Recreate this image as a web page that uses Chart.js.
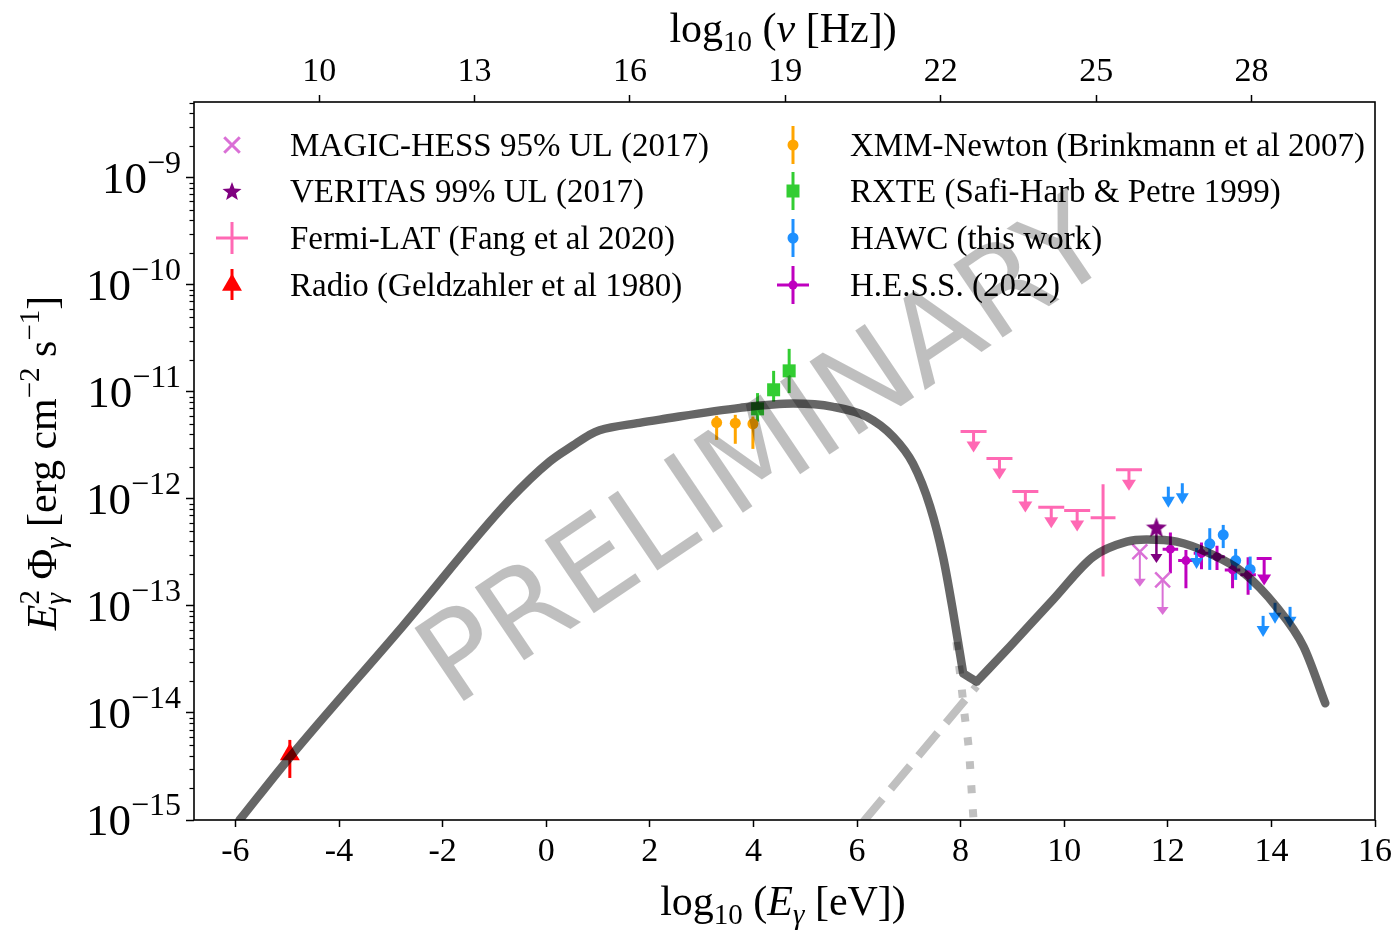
<!DOCTYPE html>
<html>
<head>
<meta charset="utf-8">
<script src="https://cdn.jsdelivr.net/npm/chart.js@4.4.0/dist/chart.umd.min.js"></script>
<style>
  html, body { margin: 0; padding: 0; background: #fff; }
</style>
</head>
<body>
<canvas id="sed" width="1397" height="931"></canvas>
<script>
// ---- data (log10 E [eV] on x, E^2 dN/dE [erg cm^-2 s^-1] on y) ----
const xTicks = [-6, -4, -2, 0, 2, 4, 6, 8, 10, 12, 14, 16];
const nuTicks = [10, 13, 16, 19, 22, 25, 28];
const yTickExps = [-15, -14, -13, -12, -11, -10, -9];
const nuOffset = 14.3835; // log10(1 eV / h)

// total model, split in three pieces (null = break) so the dip stays sharp
const modelX = [-5.92, -4.96, -2.77, -0.71, 0.07, 0.52, 0.84, 1.03, 1.80, 2.19, 3.74, 4.77, 5.54, 6.18, 6.70, 7.08, 7.41, 7.66, 7.86, 8.05,
  8.05, 8.05, 8.31,
  8.31, 8.31, 8.95, 9.79, 10.56, 11.21, 11.59, 12.17, 12.81, 13.46, 14.10, 14.62, 15.04];
const modelY = [1.0e-15, 3.8e-15, 6.46e-14, 9.77e-13, 2.24e-12, 3.16e-12, 3.98e-12, 4.37e-12, 5.13e-12, 5.5e-12, 7.08e-12, 7.76e-12, 7.24e-12, 5.89e-12, 3.8e-12, 2.14e-12, 8.51e-13, 2.88e-13, 8.51e-14, 2.34e-14,
  null, 2.34e-14, 1.96e-14,
  null, 1.96e-14, 4.17e-14, 1.15e-13, 2.88e-13, 3.98e-13, 4.17e-13, 3.98e-13, 3.09e-13, 2.04e-13, 9.77e-14, 4.17e-14, 1.23e-14];
const icX = [6.12, 8.31];
const icY = [9.6e-16, 1.78e-14];
const synX = [7.92, 8.0, 8.08, 8.16, 8.25, 8.28];
const synY = [4.6e-14, 2.1e-14, 9.3e-15, 4.5e-15, 1.0e-15, 7.0e-16];

const radioX = [-4.95], radioY = [4.1e-15], radioLo = [2.47e-15], radioHi = [5.6e-15];
const xmmX = [3.29, 3.65, 3.99], xmmY = [5.16e-12, 5.1e-12, 5.03e-12];
const xmmLo = [3.56e-12, 3.27e-12, 2.93e-12], xmmHi = [5.97e-12, 6.1e-12, 5.88e-12];
const rxteX = [4.08, 4.39, 4.69], rxteY = [6.93e-12, 1.045e-11, 1.57e-11];
const rxteLo = [5.27e-12, 8.11e-12, 9.73e-12], rxteHi = [9.73e-12, 1.57e-11, 2.52e-11];
const fermiUlX = [8.25, 8.75, 9.25, 9.75, 10.25, 11.25];
const fermiUlY = [4.26e-12, 2.38e-12, 1.17e-12, 8.36e-13, 7.77e-13, 1.87e-12];
const fermiX = [10.75], fermiY = [6.68e-13], fermiLo = [1.88e-13], fermiHi = [1.37e-12];
const fermiXLo = [10.51], fermiXHi = [10.99];
const magicX = [11.46, 11.9], magicY = [3.21e-13, 1.75e-13];
const veritasX = [11.78], veritasY = [5.45e-13];
const hessX = [12.05, 12.35, 12.65, 12.95, 13.25, 13.55];
const hessY = [3.39e-13, 2.65e-13, 3.1e-13, 2.88e-13, 2.17e-13, 1.95e-13];
const hessLo = [2.02e-13, 1.46e-13, 2.2e-13, 2.17e-13, 1.46e-13, 1.27e-13];
const hessHi = [4.84e-13, 3.33e-13, 3.91e-13, 3.64e-13, 2.69e-13, 2.85e-13];
const hessXLo = [11.9, 12.2, 12.5, 12.8, 13.1, 13.4], hessXHi = [12.2, 12.5, 12.8, 13.1, 13.4, 13.7];
const hessUlX = [13.86], hessUlY = [2.78e-13];
const hawcX = [12.81, 13.07, 13.31, 13.59], hawcY = [3.8e-13, 4.61e-13, 2.65e-13, 2.19e-13];
const hawcLo = [2.17e-13, 3.47e-13, 1.75e-13, 1.41e-13], hawcHi = [5.32e-13, 5.71e-13, 3.41e-13, 2.89e-13];
const hawcUlX = [12.01, 12.28, 12.555, 13.84, 14.07, 14.36];
const hawcUlY = [1.3e-12, 1.4e-12, 3.48e-13, 8.07e-14, 1.07e-13, 9.8e-14];

const SERIF = '"Liberation Serif", "Times New Roman", serif';
const R = px => `${px}px ${SERIF}`;
const I = px => `italic ${px}px ${SERIF}`;

const pts = (xs, ys) => xs.map((v, i) => ({x: v, y: ys[i]}));

function starImage(size, color) {
  const c = document.createElement('canvas');
  c.width = c.height = size;
  const g = c.getContext('2d');
  g.fillStyle = color;
  g.beginPath();
  for (let i = 0; i < 10; i++) {
    const r = i % 2 ? size * 0.21 : size / 2;
    const a = -Math.PI / 2 + i * Math.PI / 5;
    g.lineTo(size / 2 + r * Math.cos(a), size / 2 + r * Math.sin(a) + size * 0.05);
  }
  g.closePath();
  g.fill();
  return c;
}
const star = starImage(22, '#800080');
const starSmall = starImage(20, '#800080');

function marker(color, style, radius, extra) {
  return Object.assign({
    type: 'scatter', showLine: false, pointStyle: style, pointRadius: radius,
    backgroundColor: color, borderColor: color, borderWidth: 0, order: 0
  }, extra || {});
}

const datasets = [
  {type: 'line', label: 'model', data: pts(modelX, modelY), borderColor: 'rgba(0,0,0,0.6)',
   borderWidth: 8.5, pointRadius: 0, cubicInterpolationMode: 'monotone', order: -1,
   borderJoinStyle: 'round', borderCapStyle: 'round', spanGaps: false},
  {type: 'line', label: 'IC', data: pts(icX, icY), borderColor: '#c0c0c0', borderWidth: 8,
   borderDash: [30, 13], pointRadius: 0, order: 5},
  {type: 'line', label: 'sync', data: pts(synX, synY), borderColor: '#c0c0c0', borderWidth: 8,
   borderDash: [8, 16], pointRadius: 0, cubicInterpolationMode: 'monotone', order: 5},
  marker('red', 'triangle', 11.5, {data: pts(radioX, radioY), err: {lo: radioLo, hi: radioHi, lw: 3, color: 'red'}}),
  marker('#ffa500', 'circle', 5.5, {data: pts(xmmX, xmmY), err: {lo: xmmLo, hi: xmmHi, lw: 3, color: '#ffa500'}}),
  marker('#32cd32', 'rect', 9.2, {data: pts(rxteX, rxteY), err: {lo: rxteLo, hi: rxteHi, lw: 3, color: '#32cd32'}}),
  marker('#ff69b4', 'circle', 0, {data: pts(fermiUlX, fermiUlY),
   err: {ul: true, cap: 26, len: 21, headW: 14, headH: 11, lw: 3, color: '#ff69b4'}}),
  marker('#ff69b4', 'circle', 0, {data: pts(fermiX, fermiY),
   err: {lo: fermiLo, hi: fermiHi, xlo: fermiXLo, xhi: fermiXHi, lw: 3, color: '#ff69b4'}}),
  marker('#da70d6', 'crossRot', 10.5, {data: pts(magicX, magicY), borderWidth: 2.5,
   err: {ul: true, cap: 0, len: 35, headW: 12, headH: 8, lw: 2, color: '#da70d6'}}),
  marker('#800080', star, 11, {data: pts(veritasX, veritasY),
   err: {ul: true, cap: 0, len: 36, headW: 12, headH: 9, lw: 2.5, color: '#800080'}}),
  marker('#bf00bf', 'circle', 4.5, {data: pts(hessX, hessY),
   err: {lo: hessLo, hi: hessHi, xlo: hessXLo, xhi: hessXHi, lw: 3, color: '#bf00bf'}}),
  marker('#bf00bf', 'circle', 0, {data: pts(hessUlX, hessUlY),
   err: {ul: true, cap: 15, len: 27, headW: 14, headH: 11, lw: 3, color: '#bf00bf'}}),
  marker('#1e90ff', 'circle', 5.5, {data: pts(hawcX, hawcY), err: {lo: hawcLo, hi: hawcHi, lw: 3, color: '#1e90ff'}}),
  marker('#1e90ff', 'circle', 0, {data: pts(hawcUlX, hawcUlY),
   err: {ul: true, cap: 0, len: 21, headW: 13, headH: 11, lw: 3, color: '#1e90ff'}})
];

function drawRich(ctx, segs, x, y, align) {
  let w = 0;
  segs.forEach(s => {
    ctx.font = s.f;
    s.w = ctx.measureText(s.t).width;
    if (s.t2) { ctx.font = s.f2; s.w = Math.max(s.w, ctx.measureText(s.t2).width); }
    w += s.w;
  });
  let cx = align === 'center' ? x - w / 2 : align === 'right' ? x - w : x;
  segs.forEach(s => {
    ctx.font = s.f;
    ctx.fillText(s.t, cx, y + (s.dy || 0));
    if (s.t2) { ctx.font = s.f2; ctx.fillText(s.t2, cx, y + s.dy2); }
    cx += s.w;
  });
}

const errorBars = {
  id: 'errorBars',
  beforeDatasetsDraw(chart) {
    const {ctx, chartArea: a, scales: {x, y}} = chart;
    ctx.save();
    ctx.beginPath();
    ctx.rect(a.left, a.top, a.right - a.left, a.bottom - a.top);
    ctx.clip();
    chart.data.datasets.forEach(ds => {
      const e = ds.err;
      if (!e) return;
      ctx.strokeStyle = e.color;
      ctx.fillStyle = e.color;
      ctx.lineWidth = e.lw;
      ds.data.forEach((p, i) => {
        const px = x.getPixelForValue(p.x), py = y.getPixelForValue(p.y);
        ctx.beginPath();
        if (e.lo) { ctx.moveTo(px, y.getPixelForValue(e.lo[i])); ctx.lineTo(px, y.getPixelForValue(e.hi[i])); }
        if (e.xlo) { ctx.moveTo(x.getPixelForValue(e.xlo[i]), py); ctx.lineTo(x.getPixelForValue(e.xhi[i]), py); }
        if (e.ul) {
          if (e.cap) { ctx.moveTo(px - e.cap / 2, py); ctx.lineTo(px + e.cap / 2, py); }
          ctx.moveTo(px, py);
          ctx.lineTo(px, py + e.len - e.headH + 1);
        }
        ctx.stroke();
        if (e.ul) {
          ctx.beginPath();
          ctx.moveTo(px - e.headW / 2, py + e.len - e.headH);
          ctx.lineTo(px + e.headW / 2, py + e.len - e.headH);
          ctx.lineTo(px, py + e.len);
          ctx.closePath();
          ctx.fill();
        }
      });
    });
    ctx.restore();
  }
};

const legendRows = [
  ['MAGIC-HESS 95% UL (2017)', 'VERITAS 99% UL (2017)', 'Fermi-LAT (Fang et al 2020)', 'Radio (Geldzahler et al 1980)'],
  ['XMM-Newton (Brinkmann et al 2007)', 'RXTE (Safi-Harb & Petre 1999)', 'HAWC (this work)', 'H.E.S.S. (2022)']
];

const decor = {
  id: 'decor',
  afterDraw(chart) {
    const {ctx, chartArea: a, scales: {y}} = chart;
    const H = Chart.helpers;
    ctx.save();
    // minor y ticks
    ctx.strokeStyle = '#000';
    ctx.lineWidth = 1.2;
    y.ticks.forEach(t => {
      const e = Math.log10(t.value);
      if (Math.abs(e - Math.round(e)) < 1e-6) return;
      const py = Math.round(y.getPixelForValue(t.value)) + 0.5;
      ctx.beginPath(); ctx.moveTo(a.left - 4.5, py); ctx.lineTo(a.left, py); ctx.stroke();
    });
    // frame
    ctx.lineWidth = 1.6;
    ctx.strokeRect(a.left, a.top, a.right - a.left, a.bottom - a.top);

    // y tick labels 10^n
    ctx.fillStyle = '#000';
    ctx.textBaseline = 'alphabetic';
    yTickExps.forEach(n => {
      const py = y.getPixelForValue(Math.pow(10, n));
      drawRich(ctx, [{t: '10', f: R(45), dy: 15}, {t: '\u2212' + Math.abs(n), f: R(32), dy: -5}], 181, py, 'right');
    });

    // axis titles
    drawRich(ctx, [{t: 'log', f: R(42)}, {t: '10', f: R(29), dy: 9}, {t: ' (', f: R(42)},
      {t: 'E', f: I(42)}, {t: '\u03b3', f: I(29), dy: 9}, {t: ' [eV])', f: R(42)}], 783, 915, 'center');
    drawRich(ctx, [{t: 'log', f: R(42)}, {t: '10', f: R(29), dy: 9}, {t: ' (', f: R(42)},
      {t: '\u03bd', f: I(42)}, {t: ' [Hz])', f: R(42)}], 783, 42, 'center');
    ctx.save();
    ctx.translate(56, 463);
    ctx.rotate(-Math.PI / 2);
    drawRich(ctx, [{t: 'E', f: I(42)}, {t: '2', f: R(29), dy: -17, t2: '\u03b3', f2: I(29), dy2: 9},
      {t: ' \u03a6', f: R(42)}, {t: '\u03b3', f: I(29), dy: 9},
      {t: ' [erg cm', f: R(42)}, {t: '\u22122', f: R(29), dy: -17}, {t: ' s', f: R(42)},
      {t: '\u22121', f: R(29), dy: -17}, {t: ']', f: R(42)}], 0, 0, 'center');
    ctx.restore();

    // legend
    const rowsY = [145, 191, 238, 285];
    const colX = [[232, 290], [793, 850]];
    ctx.font = R(33);
    ctx.textBaseline = 'alphabetic';
    legendRows.forEach((col, c) => col.forEach((txt, r) => {
      ctx.fillText(txt, colX[c][1], rowsY[r] + 11);
    }));
    const mx = colX[0][0], nx = colX[1][0];
    // MAGIC x
    ctx.strokeStyle = '#da70d6'; ctx.lineWidth = 3;
    H.drawPoint(ctx, {pointStyle: 'crossRot', radius: 11, borderWidth: 3}, mx, rowsY[0]);
    // VERITAS star
    ctx.drawImage(starSmall, mx - 10, rowsY[1] - 10);
    // Fermi cross
    ctx.strokeStyle = '#ff69b4'; ctx.lineWidth = 3;
    ctx.beginPath();
    ctx.moveTo(mx - 16, rowsY[2]); ctx.lineTo(mx + 16, rowsY[2]);
    ctx.moveTo(mx, rowsY[2] - 16); ctx.lineTo(mx, rowsY[2] + 16);
    ctx.stroke();
    // Radio
    ctx.strokeStyle = 'red'; ctx.fillStyle = 'red';
    ctx.beginPath(); ctx.moveTo(mx, rowsY[3] - 16); ctx.lineTo(mx, rowsY[3] + 15); ctx.stroke();
    H.drawPoint(ctx, {pointStyle: 'triangle', radius: 11.5, borderWidth: 0}, mx, rowsY[3]);
    // XMM, RXTE, HAWC, HESS
    const col2 = [['#ffa500', 'circle', 5.5], ['#32cd32', 'rect', 9.2], ['#1e90ff', 'circle', 5.5], ['#bf00bf', 'circle', 4.5]];
    col2.forEach(([c, s, r], i) => {
      ctx.strokeStyle = c; ctx.fillStyle = c; ctx.lineWidth = 3;
      ctx.beginPath();
      ctx.moveTo(nx, rowsY[i] - 19); ctx.lineTo(nx, rowsY[i] + 19);
      if (i === 3) { ctx.moveTo(nx - 16, rowsY[i]); ctx.lineTo(nx + 16, rowsY[i]); }
      ctx.stroke();
      H.drawPoint(ctx, {pointStyle: s, radius: r, borderWidth: 0}, nx, rowsY[i]);
    });

    // watermark
    ctx.translate(768, 458);
    ctx.rotate(-34 * Math.PI / 180);
    ctx.font = '121px "DejaVu Sans"';
    ctx.fillStyle = 'rgba(0,0,0,0.25)';
    ctx.textAlign = 'center';
    ctx.textBaseline = 'middle';
    ctx.fillText('PRELIMINARY', 0, 0);
    ctx.restore();
  }
};

const tickGrid = {drawOnChartArea: false, drawTicks: true, tickLength: 7, tickWidth: 1.5, tickColor: '#000'};

new Chart(document.getElementById('sed'), {
  data: {datasets},
  options: {
    responsive: false,
    animation: false,
    devicePixelRatio: 1,
    layout: {padding: {left: 0, right: 22, top: 0, bottom: 0}},
    plugins: {legend: {display: false}, tooltip: {enabled: false}},
    scales: {
      x: {
        type: 'linear', position: 'bottom', min: -6.8, max: 16,
        afterBuildTicks: s => { s.ticks = xTicks.map(v => ({value: v})); },
        afterFit: s => { s.height = 111; },
        ticks: {font: {family: SERIF, size: 34}, color: '#000', padding: 5, maxRotation: 0, autoSkip: false},
        grid: tickGrid, border: {display: false}
      },
      x2: {
        type: 'linear', position: 'top', min: -6.8 + nuOffset, max: 16 + nuOffset,
        afterBuildTicks: s => { s.ticks = nuTicks.map(v => ({value: v})); },
        afterFit: s => { s.height = 102; },
        ticks: {font: {family: SERIF, size: 34}, color: '#000', padding: 3, maxRotation: 0, autoSkip: false},
        grid: tickGrid, border: {display: false}
      },
      y: {
        type: 'logarithmic', position: 'left', min: 1e-15, max: 5.1e-9,
        afterBuildTicks: s => {
          const t = [];
          yTickExps.forEach(n => { for (let m = 1; m < 10; m++) { const v = m * Math.pow(10, n); if (v <= 5.1e-9) t.push({value: v}); } });
          s.ticks = t;
        },
        afterFit: s => { s.width = 194; },
        ticks: {display: false},
        grid: Object.assign({}, tickGrid, {tickLength: 8, tickColor: c => {
          const e = Math.log10(c.tick.value); return Math.abs(e - Math.round(e)) < 1e-6 ? '#000' : 'rgba(0,0,0,0)'; }}),
        border: {display: false}
      }
    }
  },
  plugins: [errorBars, decor]
});
</script>
</body>
</html>
